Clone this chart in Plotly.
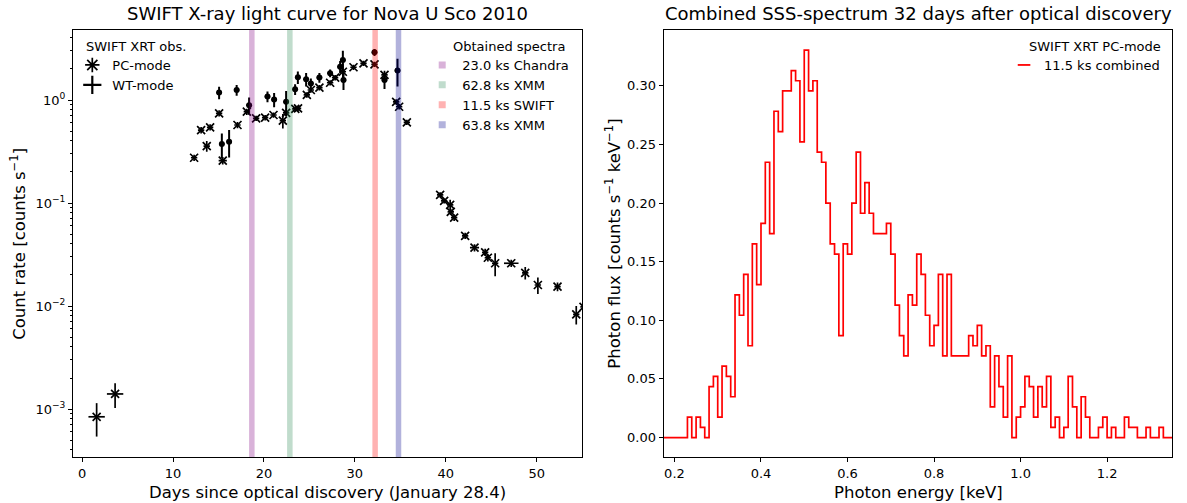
import plotly.graph_objects as go

# ---------------- Left panel: SWIFT XRT light curve ----------------
pc_day = [1.6, 3.63, 12.32, 13.09, 13.71, 14.08, 15.07, 15.47, 17.09, 18.12, 19.14, 20.13,
          21.05, 22.08, 22.44, 23.45, 23.75, 24.72, 25.16, 26.1, 27.28, 27.83, 28.68, 29.85,
          30.95, 32.16, 33.26, 34.54, 34.87, 35.72, 39.38, 39.82, 40.48, 40.55, 40.92, 42.13,
          43.16, 44.33, 44.63, 45.43, 47.2, 48.74, 50.13, 52.29, 54.35, 55.15]
pc_rate = [8.4e-4, 1.40e-3, 0.275, 0.51, 0.357, 0.543, 0.743, 0.258, 0.572, 0.77, 0.664, 0.674,
           0.715, 0.63, 0.75, 0.82, 0.83, 1.12, 1.25, 1.32, 1.47, 1.65, 1.88, 2.08,
           2.27, 2.22, 1.75, 0.96, 0.86, 0.607, 0.12, 0.105, 0.096, 0.082, 0.072, 0.048,
           0.0368, 0.0332, 0.0294, 0.026, 0.026, 0.021, 0.016, 0.0154, 0.0083, 0.0098]
pc_err = [3.0e-4, 3.8e-4, 0.019, 0.036, 0.043, 0.038, 0.052, 0.021, 0.04, 0.054, 0.04, 0.04,
          0.043, 0.10, 0.06, 0.05, 0.05, 0.067, 0.075, 0.08, 0.088, 0.1, 0.38, 0.125,
          0.136, 0.133, 0.175, 0.058, 0.052, 0.036, 0.0072, 0.0063, 0.0115, 0.0057, 0.005, 0.0034,
          0.0029, 0.0027, 0.0024, 0.0065, 0.0021, 0.0029, 0.0029, 0.0015, 0.0017, 0.002]
pc_xerr = [0.9, 0.9, 0.35, 0.35, 0.35, 0.35, 0.35, 0.45, 0.35, 0.35, 0.35, 0.35,
           0.35, 0.35, 0.35, 0.35, 0.35, 0.35, 0.35, 0.35, 0.35, 0.35, 0.35, 0.35,
           0.35, 0.35, 0.35, 0.35, 0.35, 0.35, 0.35, 0.35, 0.35, 0.35, 0.35, 0.35,
           0.5, 0.35, 0.35, 0.35, 0.8, 0.35, 0.35, 0.35, 0.35, 0.35]

wt_day = [15.07, 15.37, 16.17, 17.0, 18.37, 20.39, 21.12, 22.44, 23.43, 23.73, 24.64, 25.16,
          26.1, 27.28, 28.38, 28.68, 28.75, 32.16, 33.26, 34.69]
wt_rate = [1.18, 0.374, 0.394, 1.25, 0.89, 1.08, 1.01, 0.96, 1.27, 1.66, 1.59, 1.45,
           1.65, 1.82, 2.1, 2.44, 1.56, 2.9, 1.56, 1.93]
wt_err = [0.165, 0.10, 0.118, 0.15, 0.17, 0.13, 0.16, 0.26, 0.15, 0.23, 0.24, 0.17,
          0.18, 0.16, 0.29, 0.56, 0.31, 0.23, 0.28, 0.58]
wt_xerr = [0.3] * len(wt_day)

spec_labels = ["23.0 ks Chandra", "62.8 ks XMM", "11.5 ks SWIFT", "63.8 ks XMM"]
spec_days = [18.67, 22.85, 32.23, 34.8]
spec_rgb = [(128, 0, 128), (46, 139, 87), (255, 0, 0), (0, 0, 139)]

# ---------------- Right panel: combined SSS spectrum ----------------
spec_energy = [0.17, 0.18, 0.19, 0.20, 0.21, 0.22,
               0.23, 0.24, 0.25, 0.26, 0.27, 0.28, 0.29, 0.30, 0.31, 0.32,
               0.33, 0.34, 0.35, 0.36, 0.37, 0.38, 0.39, 0.40, 0.41, 0.42,
               0.43, 0.44, 0.45, 0.46, 0.47, 0.48, 0.49, 0.50, 0.51, 0.52,
               0.53, 0.54, 0.55, 0.56, 0.57, 0.58, 0.59, 0.60, 0.61, 0.62,
               0.63, 0.64, 0.65, 0.66, 0.67, 0.68, 0.69, 0.70, 0.71, 0.72,
               0.73, 0.74, 0.75, 0.76, 0.77, 0.78, 0.79, 0.80, 0.81, 0.82,
               0.83, 0.84, 0.85, 0.86, 0.87, 0.88, 0.89, 0.90, 0.91, 0.92,
               0.93, 0.94, 0.95, 0.96, 0.97, 0.98, 0.99, 1.00, 1.01, 1.02,
               1.03, 1.04, 1.05, 1.06, 1.07, 1.08, 1.09, 1.10, 1.11, 1.12,
               1.13, 1.14, 1.15, 1.16, 1.17, 1.18, 1.19, 1.20, 1.21, 1.22,
               1.23, 1.24, 1.25, 1.26, 1.27, 1.28, 1.29, 1.30, 1.31, 1.32,
               1.33, 1.34]
spec_flux = [0, 0, 0, 0, 0, 0,
             0.0174, 0, 0.0174, 0.0087, 0, 0.0435, 0.0522, 0.0174, 0.0609, 0.0522,
             0.0348, 0.1217, 0.1043, 0.1391, 0.0783, 0.1652, 0.1304, 0.1826, 0.2348, 0.1739,
             0.2783, 0.2609, 0.2957, 0.2957, 0.313, 0.3043, 0.2522, 0.3304, 0.2957, 0.3043,
             0.2435, 0.2348, 0.2, 0.1652, 0.1565, 0.087, 0.1652, 0.1565, 0.2, 0.2435,
             0.1913, 0.2174, 0.1913, 0.1739, 0.1739, 0.1739, 0.1826, 0.1565, 0.113, 0.087,
             0.0696, 0.1217, 0.113, 0.1565, 0.1391, 0.1043, 0.0783, 0.0957, 0.1391, 0.0696,
             0.1391, 0.0696, 0.0696, 0.0696, 0.0696, 0.087, 0.0783, 0.0957, 0.0696, 0.0783,
             0.0261, 0.0696, 0.0435, 0.0174, 0.0696, 0, 0.0174, 0.0261, 0.0522, 0.0435,
             0.0174, 0.0435, 0.0261, 0.0522, 0.0087, 0.0174, 0, 0.0087, 0.0522, 0.0261,
             0, 0.0348, 0.0174, 0, 0, 0.0087, 0.0174, 0, 0.0087, 0,
             0, 0.0174, 0.0087, 0.0087, 0, 0, 0.0087, 0, 0, 0.0087,
             0, 0]

x_ticks_left = [0, 10, 20, 30, 40, 50]
y_ticks_left = [1e-3, 1e-2, 1e-1, 1]
y_ticktext_left = ["10<sup>\u22123</sup>", "10<sup>\u22122</sup>", "10<sup>\u22121</sup>", "10<sup>0</sup>"]
x_ticks_right = [0.2, 0.4, 0.6, 0.8, 1.0, 1.2]
y_ticks_right = [0.0, 0.05, 0.10, 0.15, 0.20, 0.25, 0.30]

FONT = "DejaVu Sans"
TICK_SIZE = 13
LEG_SIZE = 13
LABEL_SIZE = 16.5
TITLE_SIZE = 18
W, H = 1187, 503
L, R, T, B = 72.7, 15, 30, 46
PW = W - L - R
PH = H - T - B


def px_x(p):
    return (p - L) / PW


def px_y(p):
    return (H - B - p) / PH


fig = go.Figure()

# PC-mode
fig.add_trace(go.Scatter(
    x=pc_day, y=pc_rate, mode="markers", xaxis="x", yaxis="y", showlegend=False,
    marker=dict(symbol="x-thin", size=8, color="black", line=dict(width=1.7, color="black")),
    error_y=dict(type="data", array=pc_err, color="black", thickness=1.7, width=0),
    error_x=dict(type="data", array=pc_xerr, color="black", thickness=1.7, width=0),
))
# WT-mode
fig.add_trace(go.Scatter(
    x=wt_day, y=wt_rate, mode="markers", xaxis="x", yaxis="y", showlegend=False,
    marker=dict(symbol="circle", size=6, color="black"),
    error_y=dict(type="data", array=wt_err, color="black", thickness=2, width=0),
    error_x=dict(type="data", array=wt_xerr, color="black", thickness=1.7, width=0),
))

# legend-only entries
fig.add_trace(go.Scatter(x=[None], y=[None], mode="markers", name="PC-mode", legend="legend",
                         xaxis="x", yaxis="y",
                         marker=dict(symbol="asterisk-open", size=12, color="black",
                                     line=dict(width=1.7, color="black"))))
fig.add_trace(go.Scatter(x=[None], y=[None], mode="markers", name="WT-mode", legend="legend",
                         xaxis="x", yaxis="y",
                         marker=dict(symbol="cross-thin-open", size=13, color="black",
                                     line=dict(width=2.2, color="black"))))

for lab, day, rgb in zip(spec_labels, spec_days, spec_rgb):
    blend = tuple(int(round(255 - 0.3 * (255 - c))) for c in rgb)
    fig.add_trace(go.Scatter(x=[None], y=[None], mode="markers", name=lab, legend="legend2",
                             xaxis="x", yaxis="y",
                             marker=dict(symbol="square", size=7,
                                         color="rgb(%d,%d,%d)" % blend)))
    fig.add_shape(type="line", xref="x", yref="y domain", x0=day, x1=day, y0=0, y1=1,
                  line=dict(color="rgba(%d,%d,%d,0.3)" % rgb, width=5.5), layer="above")

# spectrum
step_x = spec_energy + [spec_energy[-1] + (spec_energy[1] - spec_energy[0])]
step_y = spec_flux + [spec_flux[-1]]
fig.add_trace(go.Scatter(x=step_x, y=step_y, mode="lines", line=dict(color="red", width=1.7, shape="hv"),
                         xaxis="x2", yaxis="y2", showlegend=False))
fig.add_trace(go.Scatter(x=[None], y=[None], mode="markers", name="11.5 ks combined", legend="legend3",
                         xaxis="x2", yaxis="y2",
                         marker=dict(symbol="line-ew-open", size=9, color="red",
                                     line=dict(width=1.8, color="red"))))

axis_common = dict(showline=True, mirror=True, linecolor="black", linewidth=1, ticks="outside",
                   ticklen=4, tickwidth=1, tickcolor="black", showgrid=False, zeroline=False,
                   tickfont=dict(family=FONT, size=TICK_SIZE, color="black"))

left_dom = [0, px_x(582)]
right_dom = [px_x(663.5), 1]

leg_common = dict(xanchor="left", yanchor="top", bgcolor="rgba(0,0,0,0)",
                  font=dict(family=FONT, size=LEG_SIZE, color="black"))

fig.update_layout(
    width=W, height=H,
    margin=dict(l=L, r=R, t=T, b=B, pad=0),
    paper_bgcolor="white", plot_bgcolor="white",
    font=dict(family=FONT, size=LEG_SIZE, color="black"),
    xaxis=dict(domain=left_dom, range=[-1, 55], tickmode="array", tickvals=x_ticks_left,
               anchor="y", **axis_common),
    yaxis=dict(type="log", range=[-3.466, 0.6796], tickmode="array", tickvals=y_ticks_left,
               ticktext=y_ticktext_left, anchor="x",
               minor=dict(ticks="outside", ticklen=2, tickwidth=0.8, tickcolor="black", dtick="D1"),
               **axis_common),
    xaxis2=dict(domain=right_dom, range=[0.175, 1.35], tickmode="array", tickvals=x_ticks_right,
                ticktext=["%.1f" % v for v in x_ticks_right], anchor="y2", **axis_common),
    yaxis2=dict(range=[-0.0166, 0.3476], tickmode="array", tickvals=y_ticks_right,
                ticktext=["%.2f" % v for v in y_ticks_right], anchor="x2", **axis_common),
    legend=dict(x=px_x(72), y=px_y(50), **leg_common),
    legend2=dict(x=px_x(422), y=px_y(50), **leg_common),
    legend3=dict(x=px_x(1004), y=px_y(50), **leg_common),
)

ann = [
    dict(text="SWIFT X-ray light curve for Nova U Sco 2010", x=px_x(327), y=px_y(14),
         size=TITLE_SIZE),
    dict(text="Combined SSS-spectrum 32 days after optical discovery", x=px_x(918), y=px_y(14),
         size=TITLE_SIZE),
    dict(text="Days since optical discovery (January 28.4)", x=px_x(327), y=px_y(492),
         size=LABEL_SIZE),
    dict(text="Photon energy [keV]", x=px_x(918), y=px_y(492), size=LABEL_SIZE),
    dict(text="Count rate [counts s<sup>\u22121</sup>]", x=px_x(17), y=px_y(243.5),
         textangle=-90, size=LABEL_SIZE),
    dict(text="Photon flux [counts s<sup>\u22121</sup> keV<sup>\u22121</sup>]", x=px_x(612),
         y=px_y(243.5), textangle=-90, size=LABEL_SIZE),
    dict(text="SWIFT XRT obs.", x=px_x(84), y=px_y(46), xanchor="left", size=LEG_SIZE),
    dict(text="Obtained spectra", x=px_x(451), y=px_y(46), xanchor="left", size=LEG_SIZE),
    dict(text="SWIFT XRT PC-mode", x=px_x(1027), y=px_y(46), xanchor="left", size=LEG_SIZE),
]
for a in ann:
    a.setdefault("xanchor", "center")
    sz = a.pop("size")
    fig.add_annotation(xref="paper", yref="paper", yanchor="middle", showarrow=False,
                       font=dict(family=FONT, color="black", size=sz), **a)

fig.write_html("out.html")
